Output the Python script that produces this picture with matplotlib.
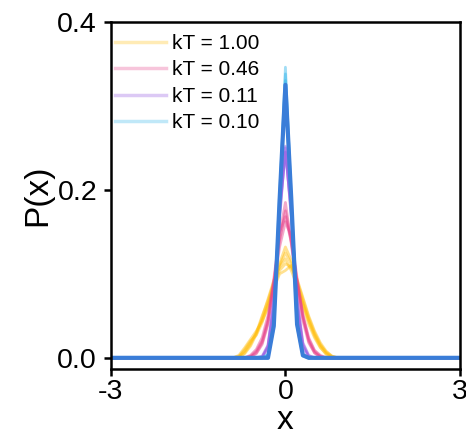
import numpy as np
import matplotlib
matplotlib.use("Agg")
import matplotlib.pyplot as plt
from matplotlib.lines import Line2D

plt.rcParams['font.family'] = ['Liberation Sans', 'DejaVu Sans']
plt.rcParams['axes.unicode_minus'] = False

# x grid (outside -1..1 everything is zero)
x = [-3.0, -1.0, -0.9, -0.8, -0.7, -0.6, -0.5, -0.4, -0.3, -0.2, -0.1, 0.0,
     0.1, 0.2, 0.3, 0.4, 0.5, 0.6, 0.7, 0.8, 0.9, 1.0, 3.0]

# kT = 1.00 runs
kT100 = [
    [0, 0, 0, 0.002, 0.008, 0.018, 0.030, 0.045, 0.065, 0.088, 0.110, 0.125, 0.112, 0.090, 0.066, 0.045, 0.028, 0.015, 0.007, 0.002, 0, 0, 0],
    [0, 0, 0, 0.001, 0.010, 0.020, 0.027, 0.042, 0.062, 0.085, 0.104, 0.112, 0.108, 0.092, 0.070, 0.048, 0.030, 0.016, 0.006, 0.001, 0, 0, 0],
    [0, 0, 0, 0, 0.005, 0.014, 0.028, 0.048, 0.070, 0.092, 0.112, 0.132, 0.116, 0.088, 0.062, 0.040, 0.024, 0.012, 0.005, 0.001, 0, 0, 0],
    [0, 0, 0, 0.003, 0.012, 0.022, 0.032, 0.044, 0.060, 0.082, 0.100, 0.104, 0.110, 0.094, 0.072, 0.050, 0.032, 0.018, 0.008, 0.002, 0, 0, 0],
    [0, 0, 0, 0, 0.006, 0.016, 0.030, 0.050, 0.068, 0.090, 0.108, 0.118, 0.104, 0.086, 0.064, 0.044, 0.026, 0.013, 0.004, 0, 0, 0, 0],
]

# kT = 0.46 runs
kT046 = [
    [0, 0, 0, 0, 0, 0.002, 0.008, 0.020, 0.045, 0.090, 0.140, 0.175, 0.140, 0.090, 0.048, 0.022, 0.008, 0.002, 0, 0, 0, 0, 0],
    [0, 0, 0, 0, 0, 0.001, 0.006, 0.018, 0.042, 0.085, 0.132, 0.162, 0.145, 0.095, 0.050, 0.020, 0.006, 0.001, 0, 0, 0, 0, 0],
    [0, 0, 0, 0, 0, 0.003, 0.010, 0.024, 0.050, 0.094, 0.146, 0.185, 0.136, 0.085, 0.044, 0.018, 0.006, 0.001, 0, 0, 0, 0, 0],
    [0, 0, 0, 0, 0, 0.001, 0.005, 0.016, 0.040, 0.088, 0.150, 0.168, 0.138, 0.092, 0.052, 0.024, 0.009, 0.003, 0, 0, 0, 0, 0],
]

# kT = 0.11 runs
kT011 = [
    [0, 0, 0, 0, 0, 0, 0, 0.002, 0.015, 0.065, 0.170, 0.250, 0.170, 0.068, 0.016, 0.002, 0, 0, 0, 0, 0, 0, 0],
    [0, 0, 0, 0, 0, 0, 0, 0.001, 0.012, 0.060, 0.175, 0.245, 0.175, 0.062, 0.013, 0.001, 0, 0, 0, 0, 0, 0, 0],
    [0, 0, 0, 0, 0, 0, 0, 0, 0.014, 0.068, 0.165, 0.252, 0.168, 0.070, 0.018, 0.003, 0, 0, 0, 0, 0, 0, 0],
]

# kT = 0.10 runs
kT010 = [
    [0, 0, 0, 0, 0, 0, 0, 0, 0.003, 0.040, 0.185, 0.346, 0.185, 0.040, 0.004, 0, 0, 0, 0, 0, 0, 0, 0],
    [0, 0, 0, 0, 0, 0, 0, 0, 0.002, 0.036, 0.180, 0.338, 0.192, 0.044, 0.003, 0, 0, 0, 0, 0, 0, 0, 0],
    [0, 0, 0, 0, 0, 0, 0, 0, 0.004, 0.042, 0.195, 0.330, 0.180, 0.038, 0.002, 0, 0, 0, 0, 0, 0, 0, 0],
]

# final distribution (solid line)
final = [0, 0, 0, 0, 0, 0, 0, 0, 0, 0.038, 0.188, 0.325, 0.190, 0.040, 0.003, 0, 0, 0, 0, 0, 0, 0, 0]

labels = ['kT = 1.00', 'kT = 0.46', 'kT = 0.11', 'kT = 0.10']
colors = ['#FFBE0B', '#E6418A', '#8E4FE0', '#30B4EA']
groups = [kT100, kT046, kT011, kT010]

fig = plt.figure(figsize=(4.66, 4.37), dpi=100)
ax = fig.add_axes([0.238, 0.156, 0.749, 0.794])

for runs, c in zip(groups, colors):
    for y in runs:
        ax.plot(x, y, color=c, lw=2.0, alpha=0.45)

ax.plot(x, final, color='#3A7DD8', lw=3.0)

handles = [Line2D([], [], color=c, lw=2.5, alpha=0.3) for c in colors]
ax.legend(handles, labels, loc='upper left', bbox_to_anchor=(0.0, 0.977),
          frameon=False, fontsize=15, handlelength=2.45, handletextpad=0.29,
          labelspacing=0.36, borderaxespad=0.0, borderpad=0.2)

ax.set_xlim(-3, 3)
ax.set_ylim(-0.0131, 0.4)
ax.set_xticks([-3, 0, 3])
ax.set_yticks([0.0, 0.2, 0.4])
ax.set_yticklabels(['0.0', '0.2', '0.4'])
ax.tick_params(labelsize=20.5, width=1.8, length=5, direction='out', pad=5)
ax.tick_params(axis='x', pad=2.5)
for s in ax.spines.values():
    s.set_linewidth(1.8)

ax.set_xlabel('x', fontsize=24, labelpad=0)
ax.set_ylabel('P(x)', fontsize=24, labelpad=3)

fig.savefig('out.png', dpi=100)
